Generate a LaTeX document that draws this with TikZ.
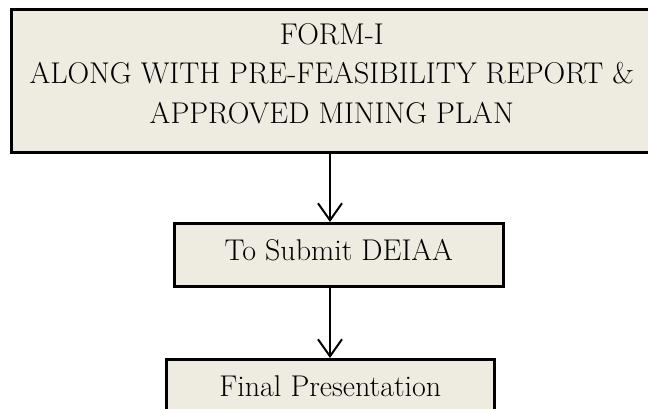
\documentclass[tikz,border=0pt]{standalone}
\usetikzlibrary{arrows.meta,shadows}
\definecolor{boxfill}{HTML}{EEECE1}
\begin{document}
\begin{tikzpicture}[x=1pt,y=-1pt,
  box/.style={draw=black, line width=2.6pt, fill=boxfill, inner sep=0pt,
    font=\fontsize{30}{39.5}\selectfont, align=center, anchor=north west,
    drop shadow={shadow xshift=1.5pt, shadow yshift=-2pt, fill=gray!55, opacity=1}},
  arr/.style={line width=2pt, -{Straight Barb[length=17pt,width=24pt,line width=2pt]}}]
\useasboundingbox (0,0) rectangle (648,409);
\node[box, minimum width=641pt, text height=35pt, text depth=108pt] (top) at (10,8)
  {\begin{tabular}[t]{@{}c@{}}FORM-I\\ALONG WITH PRE-FEASIBILITY REPORT \&\\APPROVED MINING PLAN\end{tabular}};
\node[box, minimum width=329pt, text height=37pt, text depth=26pt] (mid) at (173,222)
  {To Submit DEIAA};
\node[box, minimum width=328pt, text height=37pt, text depth=40pt] (fin) at (165,358)
  {Final Presentation};
\coordinate (ax) at (330,0);
\draw[arr] (top.south -| ax) -- (mid.north -| ax);
\draw[arr] (mid.south -| ax) -- (fin.north -| ax);
\end{tikzpicture}
\end{document}
